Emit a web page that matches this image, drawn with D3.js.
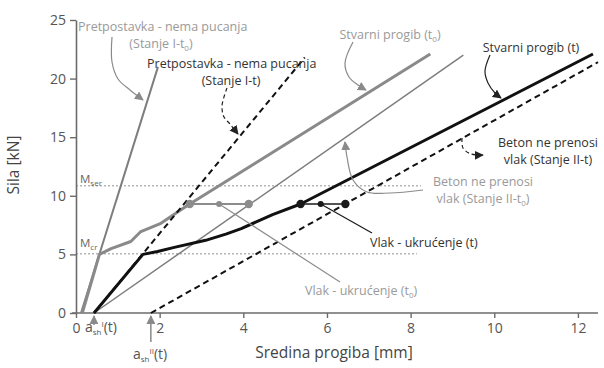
<!DOCTYPE html>
<html>
<head>
<meta charset="utf-8">
<script src="https://cdn.jsdelivr.net/npm/d3@7"></script>
<style>
  body { margin: 0; background: #fff; }
  svg { display: block; font-family: "Open Sans", "Noto Sans", sans-serif; }
</style>
</head>
<body>
<svg id="chart" width="604" height="368"></svg>
<script>
// Deflection (mm) vs. load (kN)
const xTicks = [0, 2, 4, 6, 8, 10, 12];
const yTicks = [0, 5, 10, 15, 20, 25];

// Uncracked, short-term (Stanje I-t0)
const stateI_t0 = [[0.12, 0], [1.96, 21.0]];
// Uncracked, long-term (Stanje I-t)
const stateI_t = [[0.43, 0], [5.47, 21.8]];
// Fully cracked, short-term (Stanje II-t0)
const stateII_t0 = [[0.43, 0], [9.26, 22.0]];
// Fully cracked, long-term (Stanje II-t)
const stateII_t = [[1.79, 0], [12.48, 21.4]];
// Actual deflection, short-term
const actual_t0 = [[0.15, 0], [0.47, 3.9], [0.56, 5.0], [0.84, 5.5], [1.31, 6.1], [1.55, 6.95],
                   [2.03, 7.65], [2.51, 8.8], [2.72, 9.3], [8.47, 22.1]];
// Actual deflection, long-term
const actual_t = [[0.43, 0], [1.6, 5.0], [1.95, 5.25], [2.35, 5.6], [3.1, 6.2], [3.6, 6.75],
                  [3.95, 7.2], [4.7, 8.4], [5.37, 9.3], [12.36, 22.1]];
// Tension stiffening points
const stiff_t0 = [[2.72, 9.3], [3.42, 9.3], [4.13, 9.3]];
const stiff_t = [[5.37, 9.3], [5.85, 9.3], [6.44, 9.3]];
// Reference moments
const mSer = 10.86, mCr = 5.05;
const mSerEnd = 8.25, mCrEnd = 8.15;
// Shrinkage offsets
const ashI = 0.43, ashII = 1.79;

const svg = d3.select("#chart");
const x = d3.scaleLinear().domain([0, 12.48]).range([76, 598]);
const y = d3.scaleLinear().domain([0, 25]).range([313, 20]);
const inv = (px, py) => [x.invert(px), y.invert(py)];

const axisColor = "#6b6b6b";
const gray = "#8a8a8a";
const grayText = "#9a9a9a";
const dark = "#333";

svg.append("defs").selectAll("marker")
  .data([["ahGray", gray], ["ahDark", "#222"]])
  .join("marker")
  .attr("id", d => d[0])
  .attr("viewBox", "0 0 10 10").attr("refX", 9).attr("refY", 5)
  .attr("markerWidth", 9).attr("markerHeight", 9)
  .attr("markerUnits", "userSpaceOnUse")
  .attr("orient", "auto")
  .append("path").attr("d", "M0,0 L10,5 L0,10 z").attr("fill", d => d[1]);

// Reference moment lines
[[mSer, mSerEnd], [mCr, mCrEnd]].forEach(([v, e]) => {
  svg.append("line")
    .attr("x1", x(0)).attr("x2", x(e)).attr("y1", y(v)).attr("y2", y(v))
    .attr("stroke", "#b5b5b5").attr("stroke-width", 1.5).attr("stroke-dasharray", "2,2");
});

// Axes
const gx = svg.append("g").attr("transform", `translate(0,${y(0)})`)
  .call(d3.axisBottom(x).tickValues(xTicks).tickSize(5).tickSizeOuter(0).tickPadding(5));
const gy = svg.append("g").attr("transform", `translate(${x(0)},0)`)
  .call(d3.axisLeft(y).tickValues(yTicks).tickSize(6).tickSizeOuter(0).tickPadding(4));
[gx, gy].forEach(g => {
  g.select(".domain").attr("stroke", axisColor).attr("stroke-width", 1.6);
  g.selectAll(".tick line").attr("stroke", axisColor).attr("stroke-width", 1.4);
  g.selectAll(".tick text").attr("fill", "#555").style("font-size", "14px")
    .style("font-family", "'Open Sans', sans-serif");
});
gx.select(".domain").attr("d", `M${x(0) - 4},0H${x(12.48)}`);

const line = d3.line().x(d => x(d[0])).y(d => y(d[1]));

// Series lines
svg.append("path").datum(stateII_t0).attr("d", line).attr("fill", "none")
  .attr("stroke", "#7d7d7d").attr("stroke-width", 1.5);
svg.append("path").datum(stateI_t0).attr("d", line).attr("fill", "none")
  .attr("stroke", "#7d7d7d").attr("stroke-width", 2);
svg.append("path").datum(actual_t0).attr("d", line).attr("fill", "none")
  .attr("stroke", gray).attr("stroke-width", 3).attr("stroke-linejoin", "round");
svg.append("path").datum(stateI_t).attr("d", line).attr("fill", "none")
  .attr("stroke", "#111").attr("stroke-width", 2).attr("stroke-dasharray", "6,4");
svg.append("path").datum(stateII_t).attr("d", line).attr("fill", "none")
  .attr("stroke", "#111").attr("stroke-width", 2).attr("stroke-dasharray", "6,4");
svg.append("path").datum(actual_t).attr("d", line).attr("fill", "none")
  .attr("stroke", "#111").attr("stroke-width", 3).attr("stroke-linejoin", "round");

// Tension stiffening
function stiffening(data, color, leaderEnd, lw) {
  svg.append("path").datum([data[1], leaderEnd]).attr("d", line)
    .attr("stroke", color).attr("stroke-width", 1.2).attr("fill", "none");
  svg.append("path").datum([data[0], data[2]]).attr("d", line)
    .attr("stroke", color).attr("stroke-width", lw).attr("fill", "none");
  svg.selectAll(null).data(data).join("circle")
    .attr("cx", d => x(d[0])).attr("cy", d => y(d[1]))
    .attr("r", (d, i) => i === 1 ? 3 : 4.2).attr("fill", color);
}
stiffening(stiff_t0, "#8c8c8c", inv(340, 282), 2);
stiffening(stiff_t, "#1a1a1a", inv(372, 233), 1.6);

// Annotation arrows
const curve = d3.line().x(d => x(d[0])).y(d => y(d[1])).curve(d3.curveCatmullRom.alpha(0.5));
function arrow(pts, color, marker, dash) {
  svg.append("path").datum(pts.map(p => inv(p[0], p[1]))).attr("d", curve)
    .attr("fill", "none").attr("stroke", color).attr("stroke-width", 1.2)
    .attr("stroke-dasharray", dash || null)
    .attr("marker-end", `url(#${marker})`);
}
arrow([[112, 37], [112, 62], [118, 79], [130, 90], [143, 100]], gray, "ahGray");
arrow([[227, 88], [222, 106], [224, 117], [230, 124], [238, 134]], "#222", "ahDark", "4,3");
arrow([[353, 42], [345, 63], [349, 77], [358, 85], [366, 90]], gray, "ahGray");
arrow([[490, 55], [485, 71], [488, 83], [495, 93], [501, 98]], "#222", "ahDark");
arrow([[462, 138], [463, 148], [471, 154], [483, 155]], "#222", "ahDark", "4,3");
arrow([[423, 190], [390, 193], [367, 192], [353, 180], [347, 157], [345, 142]], gray, "ahGray");

// Shrinkage markers
[[ashI, 325], [ashII, 342]].forEach(([v, py]) => {
  svg.append("line").attr("x1", x(v)).attr("x2", x(v)).attr("y1", py).attr("y2", y(0) + 3)
    .attr("stroke", axisColor).attr("stroke-width", 1.2).attr("marker-end", "url(#ahGray)");
});

// Text helper: pieces are [text, shift]
function label(px, py, pieces, opts) {
  const t = svg.append("text").attr("x", px).attr("y", py)
    .attr("fill", opts.color).attr("text-anchor", opts.anchor || "start")
    .style("font-size", (opts.size || 12.5) + "px");
  pieces.forEach(p => {
    const ts = t.append("tspan").text(p[0]);
    if (p[1] === "sub") ts.style("font-size", "8px").attr("baseline-shift", "-3");
    if (p[1] === "sup") ts.style("font-size", "8px").attr("baseline-shift", "5");
  });
  return t;
}

label(78, 31, [["Pretpostavka - nema pucanja"]], { color: grayText });
label(161, 48, [["(Stanje I-t"], ["0", "sub"], [")"]], { color: grayText, anchor: "middle" });
label(147, 68, [["Pretpostavka - nema pucanja"]], { color: dark });
label(231, 85, [["(Stanje I-t)"]], { color: dark, anchor: "middle" });
label(390, 39, [["Stvarni progib (t"], ["0", "sub"], [")"]], { color: grayText, anchor: "middle" });
label(531, 52, [["Stvarni progib (t)"]], { color: dark, anchor: "middle" });
label(548, 147, [["Beton ne prenosi"]], { color: dark, anchor: "middle" });
label(548, 164, [["vlak (Stanje II-t)"]], { color: dark, anchor: "middle" });
label(483, 186, [["Beton ne prenosi"]], { color: grayText, anchor: "middle" });
label(483, 203, [["vlak (Stanje II-t"], ["0", "sub"], [")"]], { color: grayText, anchor: "middle" });
label(370, 247, [["Vlak - ukrućenje (t)"]], { color: dark });
label(305, 295, [["Vlak - ukrućenje (t"], ["0", "sub"], [")"]], { color: grayText });
label(80, 183, [["M"], ["ser", "sub"]], { color: "#666", size: 11.5 });
label(80, 247, [["M"], ["cr", "sub"]], { color: "#666", size: 11.5 });
label(85, 332, [["a"], ["sh", "sub"], ["I", "sup"], ["(t)"]], { color: "#555", size: 14 });
label(133, 359, [["a"], ["sh", "sub"], ["II", "sup"], ["(t)"]], { color: "#555", size: 14 });

// Axis titles
svg.append("text").attr("x", 334).attr("y", 358).attr("text-anchor", "middle")
  .attr("fill", "#444").style("font-size", "15.5px").text("Sredina progiba [mm]");
svg.append("text").attr("transform", "translate(19,165) rotate(-90)").attr("text-anchor", "middle")
  .attr("fill", "#444").style("font-size", "15.5px").text("Sila [kN]");
</script>
</body>
</html>
